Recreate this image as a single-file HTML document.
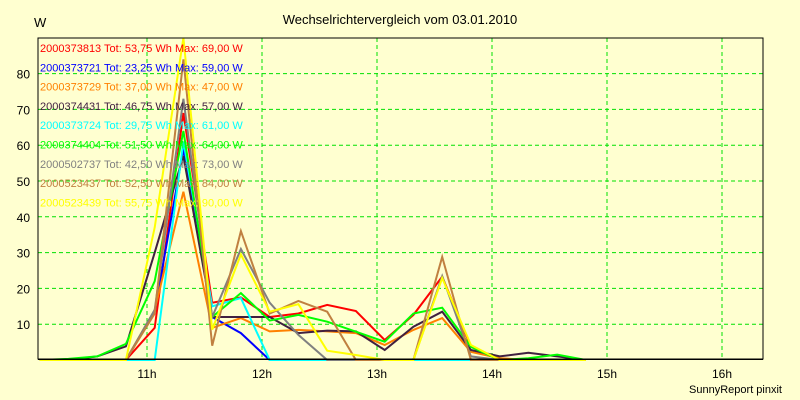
<!DOCTYPE html>
<html><head><meta charset="utf-8"><style>
html,body{margin:0;padding:0;background:#ffffd0;}
svg{display:block;font-family:"Liberation Sans",Arial,sans-serif;}
</style></head><body>
<svg id="chart" width="800" height="400">
<rect x="0" y="0" width="800" height="400" fill="#ffffd0"/>
<text x="400" y="24" text-anchor="middle" font-size="13" fill="#000">Wechselrichtervergleich vom 03.01.2010</text>
<text x="34" y="27" font-size="13" fill="#000">W</text>
<text x="782" y="393" text-anchor="end" font-size="11" fill="#000">SunnyReport pinxit</text>
<g id="grid"></g>
<g id="series"></g>
<g id="legend"></g>
<rect x="38" y="38" width="725" height="321" fill="none" stroke="#000" stroke-width="1"/>
</svg>
<script>
// time of first sample: 10:04, step 15 min (minutes after 10:00)
const xTickLabels = ["11h","12h","13h","14h","15h","16h"];
const xTickHours = [11,12,13,14,15,16];
const yTicks = [10,20,30,40,50,60,70,80];
const sampleMinutes = [4,19,34,49,64,79,94,109,124,139,154,169,184,199,214,229,244,259,274,289];
const seriesNames = ["2000373813","2000373721","2000373729","2000374431","2000373724","2000374404","2000502737","2000523437","2000523439"];
const seriesTot = ["53,75","23,25","37,00","46,75","29,75","51,50","42,50","52,50","55,75"];
const seriesMax = ["69,00","59,00","47,00","57,00","61,00","64,00","73,00","84,00","90,00"];
const seriesColors = ["#ff0000","#0000ff","#ff8000","#402040","#00ffff","#00ff00","#808080","#c08040","#ffff00"];
const sRed    = [0,0,0,0,9,69,16,17.5,12,13,15.4,13.7,5.6,12.6,23.3,3.7,0,0,0,0];
const sBlue   = [0,0,0,0,13.5,59,12,7.5,0,0,0,0,0,0,0,0,0,0,0,0];
const sOrange = [0,0,0,0,14,47,9,11.7,8,8.4,8,7.5,4.2,8.4,11.7,2.3,0.5,0,0,0];
const sDark   = [0,0,1,3.8,30,57,12,12,12,7.5,8.2,8,2.8,9.3,13.5,2.8,1,2,1,0];
const sCyan   = [0,0,0,0,0,61,15,17.3,0,0,0,0,0,0,0,0,0,0,0,0];
const sGreen  = [0,0.3,1,4.5,22,64,12,18.7,11,12.6,10.7,7.9,5.1,13,14.6,3.7,0,0.5,1.5,0];
const sGray   = [0,0,0,0,14,73,12,31,16,7,0,0,0,0,23.4,1,0,0,0,0];
const sBrown  = [0,0,0,0,13,84,4,36,13,16.5,13.5,0,0,0,28.8,0,0,0,0,0];
const sYellow = [0,0,0,0,37,90,8.5,29.5,13.5,15.6,2.6,1.4,0,0,22.9,4.2,0,0,0,0];
const seriesValues = [sRed,sBlue,sOrange,sDark,sCyan,sGreen,sGray,sBrown,sYellow];

const NS="http://www.w3.org/2000/svg";
const X0=147, PXH=115; // 11h at x=147, 115px per hour
function xScale(minAfter10){ return X0 + (minAfter10-60)/60*PXH; }
function yScale(v){ return 360 - v*3.58; }
const grid=document.getElementById('grid');
yTicks.forEach(t=>{
  const y=yScale(t);
  const l=document.createElementNS(NS,'line');
  l.setAttribute('x1',38);l.setAttribute('x2',763);l.setAttribute('y1',y);l.setAttribute('y2',y);
  l.setAttribute('stroke','#00e000');l.setAttribute('stroke-dasharray','4,3');
  
  
  grid.appendChild(l);
  const tx=document.createElementNS(NS,'text');
  tx.setAttribute('x',30);tx.setAttribute('y',y+5);tx.setAttribute('text-anchor','end');tx.setAttribute('font-size','12');
  tx.textContent=t;
  
  
  grid.appendChild(tx);
});
xTickHours.forEach((h,i)=>{
  const x=xScale((h-10)*60);
  const l=document.createElementNS(NS,'line');
  l.setAttribute('x1',x);l.setAttribute('x2',x);l.setAttribute('y1',38);l.setAttribute('y2',359);
  l.setAttribute('stroke','#00e000');l.setAttribute('stroke-dasharray','4,3');
  
  
  grid.appendChild(l);
  const tx=document.createElementNS(NS,'text');
  tx.setAttribute('x',x);tx.setAttribute('y',378);tx.setAttribute('text-anchor','middle');tx.setAttribute('font-size','12');
  tx.textContent=xTickLabels[i];
  
  
  grid.appendChild(tx);
});
const sg=document.getElementById('series');
seriesValues.forEach((vals,i)=>{
  const pts=vals.map((v,k)=>xScale(sampleMinutes[k]).toFixed(1)+','+yScale(v).toFixed(1)).join(' ');
  const p=document.createElementNS(NS,'polyline');
  p.setAttribute('points',pts);p.setAttribute('fill','none');p.setAttribute('stroke',seriesColors[i]);
  p.setAttribute('stroke-width','2');p.setAttribute('stroke-linejoin','miter');
  
  
  sg.appendChild(p);
});
const lg=document.getElementById('legend');
seriesNames.forEach((n,i)=>{
  const tx=document.createElementNS(NS,'text');
  tx.setAttribute('x',40);tx.setAttribute('y',52+i*19.3);tx.setAttribute('font-size','11');tx.setAttribute('fill',seriesColors[i]);
  tx.textContent=n+' Tot: '+seriesTot[i]+' Wh Max: '+seriesMax[i]+' W';
  
  
  lg.appendChild(tx);
});
// baseline axis
const ax=document.createElementNS(NS,'line');
ax.setAttribute('x1',38);ax.setAttribute('x2',763);ax.setAttribute('y1',359.5);ax.setAttribute('y2',359.5);ax.setAttribute('stroke','#000');


document.getElementById('chart').appendChild(ax);
</script>
</body></html>
